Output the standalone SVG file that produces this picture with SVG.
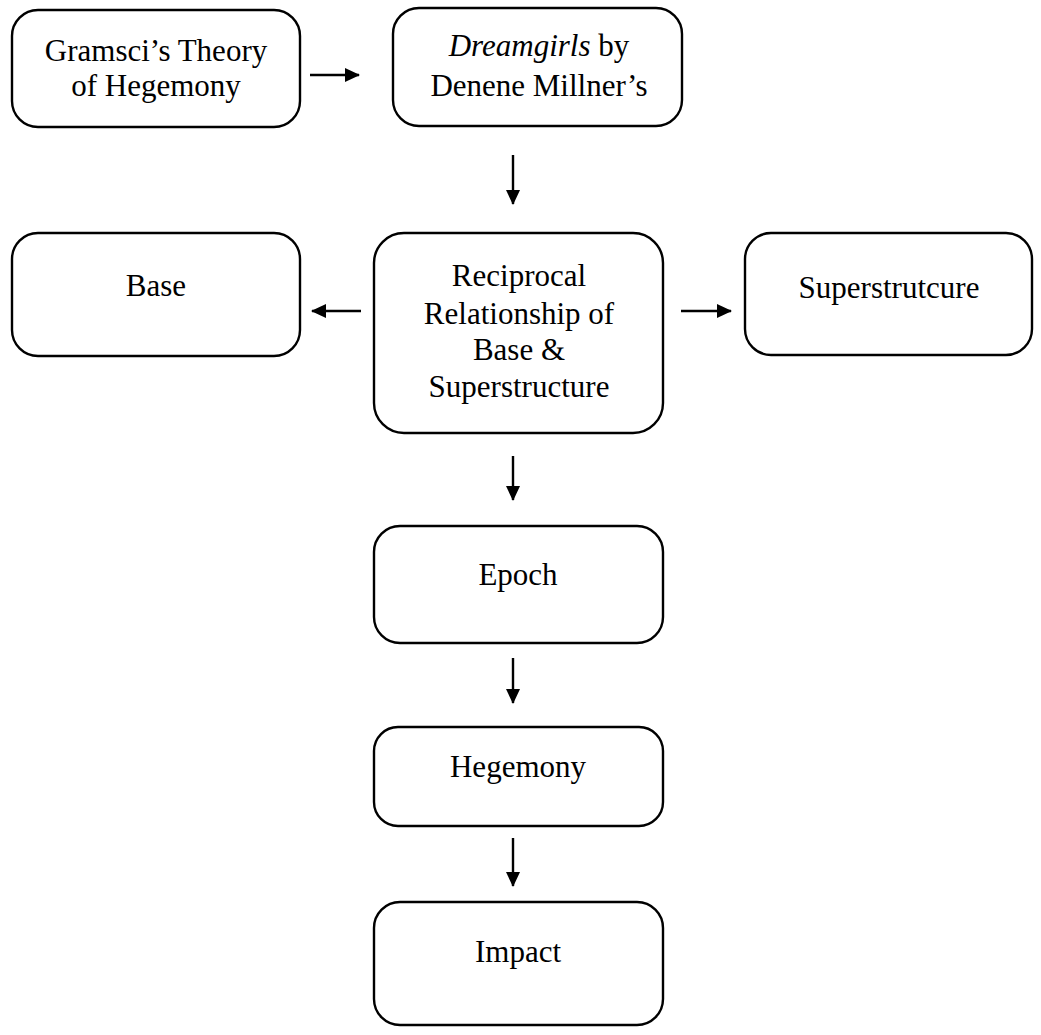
<svg xmlns="http://www.w3.org/2000/svg" width="1041" height="1035" viewBox="0 0 1041 1035">
<style>
.box{fill:#fff;stroke:#000;stroke-width:2.4}
.t{font-family:"Liberation Serif","Times New Roman",serif;font-size:31px;fill:#000;text-anchor:middle}
.c{stroke:#000;stroke-width:2.4;fill:none;marker-end:url(#ah)}
</style>
<defs>
<marker id="ah" markerWidth="15" markerHeight="14" refX="14" refY="7" orient="auto" markerUnits="userSpaceOnUse">
<path d="M0,0 L15,7 L0,14 Z" fill="#000"/>
</marker>
</defs>
<rect width="1041" height="1035" fill="#fff"/>
<g id="connectors">
<line class="c" x1="310" y1="75" x2="359" y2="75"/>
<line class="c" x1="513" y1="155" x2="513" y2="204"/>
<line class="c" x1="361" y1="311" x2="312" y2="311"/>
<line class="c" x1="681" y1="311" x2="731" y2="311"/>
<line class="c" x1="513" y1="456" x2="513" y2="500"/>
<line class="c" x1="513" y1="658" x2="513" y2="703"/>
<line class="c" x1="513" y1="838" x2="513" y2="886"/>
</g>
<g id="n-gramsci">
<rect class="box" x="12" y="10" width="288" height="117" rx="26"/>
<text class="t" x="156" y="61">Gramsci’s Theory</text>
<text class="t" x="156" y="96">of Hegemony</text>
</g>
<g id="n-dreamgirls">
<rect class="box" x="393" y="8" width="289" height="118" rx="26"/>
<text class="t" x="539" y="56"><tspan font-style="italic">Dreamgirls</tspan> by</text>
<text class="t" x="539" y="96">Denene Millner’s</text>
</g>
<g id="n-base">
<rect class="box" x="12" y="233" width="288" height="123" rx="26"/>
<text class="t" x="156" y="296">Base</text>
</g>
<g id="n-reciprocal">
<rect class="box" x="374" y="233" width="289" height="200" rx="30"/>
<text class="t" x="519" y="286">Reciprocal</text>
<text class="t" x="519" y="324">Relationship of</text>
<text class="t" x="519" y="360">Base &amp;</text>
<text class="t" x="519" y="397">Superstructure</text>
</g>
<g id="n-superstructure">
<rect class="box" x="745" y="233" width="287" height="122" rx="26"/>
<text class="t" x="889" y="298">Superstrutcure</text>
</g>
<g id="n-epoch">
<rect class="box" x="374" y="526" width="289" height="117" rx="26"/>
<text class="t" x="518" y="585">Epoch</text>
</g>
<g id="n-hegemony">
<rect class="box" x="374" y="727" width="289" height="99" rx="24"/>
<text class="t" x="518" y="777">Hegemony</text>
</g>
<g id="n-impact">
<rect class="box" x="374" y="902" width="289" height="123" rx="26"/>
<text class="t" x="518" y="962">Impact</text>
</g>
</svg>
